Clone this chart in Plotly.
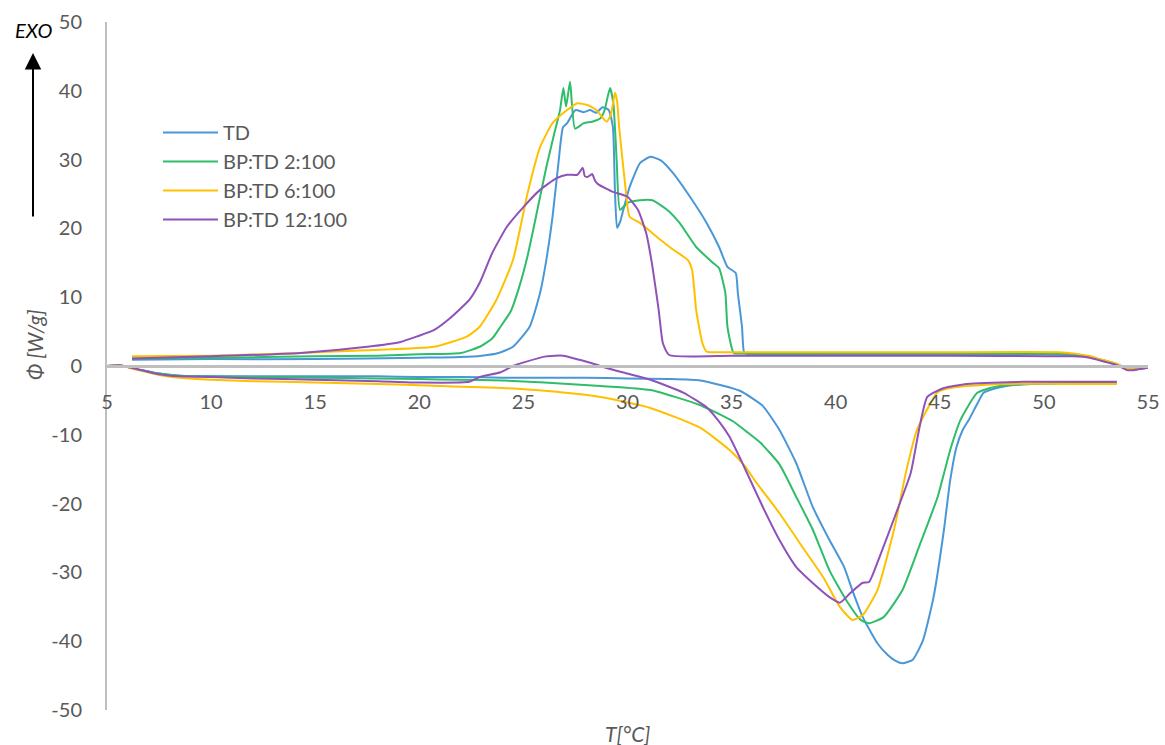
import plotly.graph_objects as go

# ---------------- data ----------------
series_names = ["TD", "BP:TD 2:100", "BP:TD 6:100", "BP:TD 12:100"]
series_colors = ["#4a97d8", "#2fbd6a", "#ffc000", "#8e52b8"]

# heating runs (lower, endothermic)
td_heat_x = [5.0, 5.6, 6.5, 7.5, 8.5, 10, 12, 15, 18, 20, 22, 24, 26, 28, 30, 32, 33.5, 34.5, 35.4, 36.0, 36.5, 37.3, 38.1, 38.9, 39.7, 40.4, 40.8, 41.3, 42.0, 42.5, 42.8, 43.2, 43.7, 44.2, 44.7, 45.2, 45.5, 45.8, 46.1, 46.4, 46.8, 47.1, 47.6, 48.2, 49.4, 51, 53.5]
td_heat_y = [0, 0.1, -0.5, -1.1, -1.4, -1.5, -1.5, -1.5, -1.5, -1.6, -1.6, -1.7, -1.7, -1.7, -1.8, -1.9, -2.1, -2.8, -3.6, -4.7, -5.8, -9.3, -14.1, -20.5, -25.3, -29.2, -32.6, -36.5, -40.3, -42.0, -42.7, -43.2, -42.7, -39.8, -33.6, -23.8, -16.6, -11.8, -9.3, -7.8, -5.5, -3.9, -3.3, -2.9, -2.6, -2.5, -2.4]

g2_heat_x = [5.0, 5.6, 6.5, 7.5, 8.5, 10, 12, 15, 18, 20, 22, 24, 26, 28.7, 31.1, 33.5, 35.1, 35.7, 36.4, 37.3, 38.1, 38.9, 39.7, 40.5, 41.2, 41.6, 42.3, 43.2, 44.0, 44.9, 45.5, 46.0, 46.8, 47.7, 49, 51, 53.5]
g2_heat_y = [0, 0.1, -0.5, -1.1, -1.4, -1.5, -1.6, -1.7, -1.8, -1.9, -2.0, -2.1, -2.4, -2.9, -3.5, -5.7, -8.1, -9.5, -11.2, -14.3, -19.0, -23.8, -29.7, -34.0, -36.9, -37.4, -36.5, -32.6, -26.3, -19.0, -12.2, -7.8, -3.9, -3.0, -2.6, -2.5, -2.5]

g6_heat_x = [5.0, 5.6, 6.5, 7.5, 8.5, 10, 12, 15, 18, 20, 22, 24, 26, 28.7, 31.1, 33.5, 34.9, 35.6, 36.2, 37.3, 38.4, 39.4, 40.2, 40.8, 41.3, 42.0, 42.8, 43.4, 43.9, 44.2, 44.9, 45.5, 46.3, 48.4, 51, 53.5]
g6_heat_y = [0, 0.1, -0.6, -1.3, -1.7, -2.0, -2.2, -2.4, -2.6, -2.8, -3.0, -3.2, -3.6, -4.5, -6.1, -9.0, -12.2, -14.4, -17.0, -21.4, -26.3, -30.7, -35.0, -36.9, -36.2, -32.6, -23.8, -15.1, -9.3, -7.4, -3.8, -3.2, -2.9, -2.6, -2.6, -2.6]

g12_heat_x = [5.0, 5.6, 6.5, 7.5, 8.5, 10, 12, 15, 18, 20, 22.4, 22.9, 23.9, 24.5, 25.1, 26.1, 26.9, 27.7, 28.6, 29.0, 30, 31.1, 32.7, 33.8, 34.4, 34.9, 35.5, 36.5, 37.3, 38.1, 39.1, 39.7, 40.2, 40.7, 41.3, 41.6, 42.1, 42.9, 43.6, 44.0, 44.4, 45.2, 46.3, 49, 53.5]
g12_heat_y = [0, 0.1, -0.5, -1.2, -1.5, -1.6, -1.8, -2.0, -2.2, -2.4, -2.3, -1.6, -0.9, 0.0, 0.6, 1.4, 1.5, 0.9, 0.1, -0.3, -1.1, -2.0, -3.9, -6.0, -8.1, -10.3, -14.0, -20.5, -25.3, -29.2, -32.1, -33.6, -34.4, -33.0, -31.5, -31.4, -27.8, -21.4, -15.6, -9.3, -4.5, -3.2, -2.6, -2.3, -2.3]

# cooling runs (upper, exothermic)
td_cool_x = [6.2, 10, 15, 20, 22, 23, 23.8, 24.5, 25.3, 25.8, 26.1, 26.4, 26.7, 26.9, 27.1, 27.5, 27.9, 28.2, 28.5, 28.8, 29.1, 29.3, 29.4, 29.5, 29.65, 29.8, 30.1, 30.6, 31.1, 31.6, 32.2, 33.0, 33.8, 34.4, 34.8, 35.2, 35.3, 35.5, 35.6, 35.8, 40, 45, 50, 51.5, 52.2, 52.7, 53.2, 53.6, 54.0, 54.3, 54.7, 55.0]
td_cool_y = [0.9, 1.0, 1.0, 1.2, 1.3, 1.5, 1.9, 2.8, 5.7, 10.6, 15.4, 21.7, 30.0, 34.7, 35.3, 37.2, 36.9, 37.2, 36.8, 37.6, 37.2, 34.7, 25.1, 20.1, 21.0, 22.7, 26.0, 29.5, 30.4, 29.9, 28.0, 24.6, 20.8, 17.3, 14.4, 13.5, 10.6, 5.7, 2.0, 1.7, 1.7, 1.7, 1.7, 1.6, 1.3, 0.9, 0.5, 0.1, -0.5, -0.55, -0.35, -0.25]

g2_cool_x = [6.2, 10, 15, 18, 20, 22, 22.9, 23.5, 23.9, 24.4, 24.8, 25.2, 25.5, 26.1, 26.5, 26.76, 26.92, 27.05, 27.24, 27.48, 27.9, 28.3, 28.7, 28.9, 29.16, 29.32, 29.48, 29.64, 30.0, 30.6, 31.2, 31.9, 32.5, 33.3, 34.1, 34.4, 34.7, 34.8, 35.1, 35.5, 40, 45, 50, 51.5, 52.2, 52.7, 53.2, 53.6, 54.0, 54.3, 54.7, 55.0]
g2_cool_y = [1.1, 1.2, 1.4, 1.5, 1.7, 1.9, 2.8, 4.0, 5.7, 8.0, 11.5, 16.0, 20.2, 28.9, 34.0, 37.2, 40.4, 37.7, 41.3, 34.5, 35.3, 35.5, 36.0, 37.2, 40.4, 38.2, 29.9, 22.7, 23.7, 24.1, 24.1, 22.7, 20.8, 17.3, 15.0, 14.2, 10.6, 5.7, 1.9, 1.8, 1.8, 1.8, 1.8, 1.7, 1.35, 0.95, 0.55, 0.15, -0.45, -0.5, -0.35, -0.25]

g6_cool_x = [6.2, 10, 14.3, 17.5, 20.7, 22.3, 22.9, 23.7, 24.5, 25.2, 25.8, 26.4, 27.1, 27.6, 28.1, 28.5, 29.0, 29.2, 29.4, 29.5, 29.6, 29.9, 30.1, 30.6, 31.4, 32.2, 32.9, 33.1, 33.3, 33.6, 33.8, 34.5, 40, 45, 50.7, 51.5, 52.2, 52.7, 53.2, 53.6, 54.0, 54.3, 54.7, 55.0]
g6_cool_y = [1.4, 1.5, 1.9, 2.3, 2.8, 4.3, 5.7, 9.6, 15.4, 25.1, 31.8, 35.3, 37.2, 38.2, 37.9, 37.2, 35.5, 36.5, 39.7, 38.5, 34.7, 26.0, 21.7, 20.8, 18.8, 16.9, 15.4, 14.0, 8.1, 3.3, 2.1, 2.0, 2.0, 2.0, 2.0, 1.8, 1.45, 1.0, 0.6, 0.2, -0.4, -0.5, -0.35, -0.25]

g12_cool_x = [6.2, 10, 14.3, 17.5, 19.1, 19.9, 20.7, 21.5, 22.4, 22.9, 23.5, 24.2, 25.0, 25.8, 26.6, 27.1, 27.6, 27.85, 27.95, 28.1, 28.3, 28.45, 28.6, 29.3, 30.0, 30.5, 30.9, 31.2, 31.5, 31.7, 32.0, 35, 40, 45, 51.4, 52.2, 52.7, 53.2, 53.6, 54.0, 54.3, 54.7, 55.0]
g12_cool_y = [1.1, 1.4, 1.9, 2.8, 3.5, 4.3, 5.2, 7.0, 9.6, 12.1, 16.4, 20.2, 23.1, 25.6, 27.3, 27.8, 27.8, 28.8, 27.6, 27.5, 27.9, 26.9, 26.4, 25.3, 24.6, 22.7, 19.3, 14.4, 8.1, 3.3, 1.6, 1.5, 1.5, 1.5, 1.4, 1.2, 0.8, 0.4, 0.0, -0.6, -0.6, -0.4, -0.25]

heat_x = [td_heat_x, g2_heat_x, g6_heat_x, g12_heat_x]
heat_y = [td_heat_y, g2_heat_y, g6_heat_y, g12_heat_y]
cool_x = [td_cool_x, g2_cool_x, g6_cool_x, g12_cool_x]
cool_y = [td_cool_y, g2_cool_y, g6_cool_y, g12_cool_y]

x_ticks = [5, 10, 15, 20, 25, 30, 35, 40, 45, 50, 55]
y_ticks = [-50, -40, -30, -20, -10, 0, 10, 20, 30, 40, 50]

# ---------------- figure ----------------
FONT = "Lato, 'Open Sans', sans-serif"
GREY = "#595959"
W, H = 1165, 745
ML, MR, MT, MB = 107, 17, 22, 35
PW, PH = W - ML - MR, H - MT - MB


def px_x(p):
    return (p - ML) / PW


def px_y(p):
    return (H - MB - p) / PH


fig = go.Figure()
for i, name in enumerate(series_names):
    xs = list(heat_x[i]) + [None] + list(cool_x[i])
    ys = list(heat_y[i]) + [None] + list(cool_y[i])
    fig.add_trace(go.Scatter(
        x=xs, y=ys, mode="lines", name=name, legendgroup=name,
        line=dict(color=series_colors[i], width=2, shape="spline", smoothing=0.5),
        connectgaps=False, hoverinfo="skip",
    ))

fig.update_layout(
    width=W, height=H,
    margin=dict(l=ML, r=MR, t=MT, b=MB, autoexpand=False),
    paper_bgcolor="white", plot_bgcolor="white",
    font=dict(family=FONT, color=GREY, size=20),
    showlegend=True,
    legend=dict(
        x=px_x(158), y=px_y(113), xanchor="left", yanchor="top",
        font=dict(family=FONT, size=20, color=GREY),
        bgcolor="rgba(0,0,0,0)", tracegroupgap=0, itemwidth=55,
    ),
    xaxis=dict(
        range=[5, 55], tickvals=x_ticks, ticktext=[str(v) for v in x_ticks],
        showgrid=False, zeroline=False, automargin=False,
        showline=True, linecolor="#bfbfbf", linewidth=2.5,
        anchor="free", position=0.5,
        ticks="outside", ticklen=17, tickcolor="rgba(0,0,0,0)",
        tickfont=dict(family=FONT, size=20, color=GREY),
    ),
    yaxis=dict(
        range=[-50, 50], tickvals=y_ticks, ticktext=[str(v) for v in y_ticks],
        showgrid=False, zeroline=False, automargin=False,
        showline=True, linecolor="#bfbfbf", linewidth=2,
        ticks="outside", ticklen=19, tickcolor="rgba(0,0,0,0)",
        tickfont=dict(family=FONT, size=20, color=GREY),
    ),
)

# axis titles and EXO marker
fig.add_annotation(text="<i>Φ [W/g]</i>", xref="paper", yref="paper",
                   x=px_x(35), y=px_y(345), xanchor="center", yanchor="middle",
                   textangle=-90, showarrow=False,
                   font=dict(family=FONT, size=21, color=GREY))
fig.add_annotation(text="<i>T[°C]</i>", xref="paper", yref="paper",
                   x=px_x(627), y=px_y(733), xanchor="center", yanchor="middle",
                   showarrow=False,
                   font=dict(family=FONT, size=21, color=GREY))
fig.add_annotation(text="<i>EXO</i>", xref="paper", yref="paper",
                   x=px_x(33), y=px_y(30), xanchor="center", yanchor="middle",
                   showarrow=False,
                   font=dict(family=FONT, size=20, color="black"))
fig.add_annotation(text="", xref="paper", yref="paper",
                   x=px_x(33), y=px_y(53),
                   ax=0, ay=165, axref="pixel", ayref="pixel",
                   showarrow=True, arrowhead=2, arrowsize=1.65, arrowwidth=2,
                   arrowcolor="black")

fig.write_html("out.html", config={"displayModeBar": False},
               post_script="document.body.style.margin='0';document.body.style.overflow='hidden';")
